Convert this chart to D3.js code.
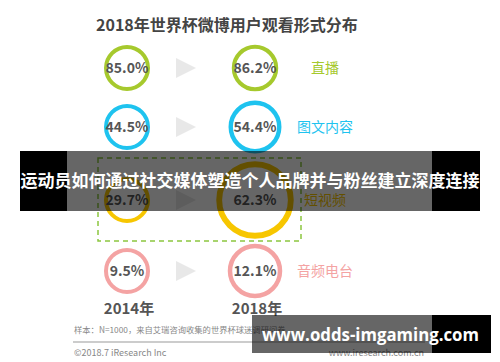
<!DOCTYPE html>
<html><head><meta charset="utf-8">
<script src="https://cdn.jsdelivr.net/npm/d3@7"></script>
<style>body{margin:0;background:#fff;}svg{display:block;}</style>
</head><body>
<svg id="c" width="500" height="362"></svg>
<script>
const title = "2018年世界杯微博用户观看形式分布";
const categories = ["直播", "图文内容", "短视频", "音频电台"];
const values2014 = [85.0, 44.5, 29.7, 9.5];
const values2018 = [86.2, 54.4, 62.3, 12.1];
const years = ["2014年", "2018年"];
const colors = ["#a6c92d", "#1ec3ef", "#f7c600", "#f4a3a3"];
const note = "样本：N=1000，来自艾瑞咨询收集的世界杯球迷调研问卷";
const copyright = "©2018.7 iResearch Inc";
const site = "www.iresearch.com.cn";
const bannerText = "运动员如何通过社交媒体塑造个人品牌并与粉丝建立深度连接";
const watermark = "www.odds-imgaming.com";

const svg = d3.select("#c");
const font = "'Noto Sans CJK SC','Noto Sans',sans-serif";

const y = d3.scaleOrdinal().domain(categories).range([68, 127, 200, 271]);
const x = d3.scalePoint().domain(years).range([127, 255]);
const r = d3.scalePow().exponent(0.72).domain([1, 2]).range([21, 21 * Math.pow(2, 0.72)]);

svg.append("text").attr("x", 96).attr("y", 31).attr("font-family", font).attr("font-weight", "bold")
  .attr("font-size", 16).attr("fill", "#444").text(title);

svg.append("rect").attr("x", 98).attr("y", y("短视频") - 42).attr("width", 203).attr("height", 83)
  .attr("fill", "none").attr("stroke", "#8cc63f").attr("stroke-width", 1.5).attr("stroke-dasharray", "5,4");

const rows = categories.map((c, i) => ({c, a: values2014[i], b: values2018[i], col: colors[i]}));
const g = svg.selectAll("g.row").data(rows).join("g").attr("class", "row");

g.append("circle").attr("cx", x(years[0])).attr("cy", d => y(d.c)).attr("r", r(1))
  .attr("fill", "#fff").attr("stroke", d => d.col).attr("stroke-width", 4);
g.append("circle").attr("cx", x(years[1])).attr("cy", d => y(d.c)).attr("r", d => r(d.b / d.a))
  .attr("fill", "#fff").attr("stroke", d => d.col).attr("stroke-width", d => 4 + (r(d.b / d.a) - 21) / 8);
g.append("path").attr("d", d => {
  const cx = (x(years[0]) + x(years[1])) / 2 - 6, cy = y(d.c);
  return `M${cx - 9},${cy - 10}L${cx + 11},${cy}L${cx - 9},${cy + 10}Z`;
}).attr("fill", "#e8e8e8");
g.append("text").attr("x", x(years[0])).attr("y", d => y(d.c) + 5).attr("text-anchor", "middle")
  .attr("font-family", font).attr("font-weight", "bold").attr("font-size", 14).attr("fill", "#555")
  .text(d => d.a.toFixed(1) + "%");
g.append("text").attr("x", x(years[1])).attr("y", d => y(d.c) + 5).attr("text-anchor", "middle")
  .attr("font-family", font).attr("font-weight", "bold").attr("font-size", 14).attr("fill", "#555")
  .text(d => d.b.toFixed(1) + "%");
g.append("text").attr("x", 325).attr("y", d => y(d.c) + 5).attr("text-anchor", "middle")
  .attr("font-family", font).attr("font-size", 14).attr("fill", d => d.col).text(d => d.c);

svg.selectAll("text.yr").data(years).join("text").attr("class", "yr")
  .attr("x", d => x(d) + 2).attr("y", 314).attr("text-anchor", "middle")
  .attr("font-family", font).attr("font-weight", "bold").attr("font-size", 15).attr("fill", "#555").text(d => d);

svg.append("text").attr("x", 74).attr("y", 333).attr("font-family", font).attr("font-size", 8.3)
  .attr("fill", "#888").text(note);
svg.append("line").attr("x1", 73).attr("x2", 425).attr("y1", 342).attr("y2", 342)
  .attr("stroke", "#ccc").attr("stroke-width", 2);
svg.append("text").attr("x", 74).attr("y", 356).attr("font-family", font).attr("font-size", 9)
  .attr("fill", "#888").text(copyright);
svg.append("text").attr("x", 424).attr("y", 356).attr("text-anchor", "end").attr("font-family", font)
  .attr("font-size", 9).attr("fill", "#888").text(site);

// banner overlay
svg.append("rect").attr("x", 20).attr("y", 151).attr("width", 47).attr("height", 60).attr("fill", "#000");
svg.append("rect").attr("x", 432).attr("y", 151).attr("width", 48).attr("height", 60).attr("fill", "#000");
svg.append("rect").attr("x", 67).attr("y", 151).attr("width", 365).attr("height", 60).attr("fill", "#000").attr("fill-opacity", 0.6);
svg.append("text").attr("x", 250).attr("y", 187).attr("text-anchor", "middle").attr("font-family", font)
  .attr("font-weight", "bold").attr("font-size", 17).attr("fill", "#fff").text(bannerText);

// watermark overlay
svg.append("rect").attr("x", 252).attr("y", 315).attr("width", 180).attr("height", 38).attr("fill", "#000").attr("fill-opacity", 0.6);
svg.append("rect").attr("x", 432).attr("y", 315).attr("width", 59).attr("height", 38).attr("fill", "#000");
svg.append("text").attr("x", 262).attr("y", 341).attr("font-family", "'Open Sans','DejaVu Sans',sans-serif")
  .attr("font-weight", "bold").attr("font-size", 18).attr("fill", "#fff")
  .attr("textLength", 217).attr("lengthAdjust", "spacingAndGlyphs").text(watermark);
</script>
</body></html>
